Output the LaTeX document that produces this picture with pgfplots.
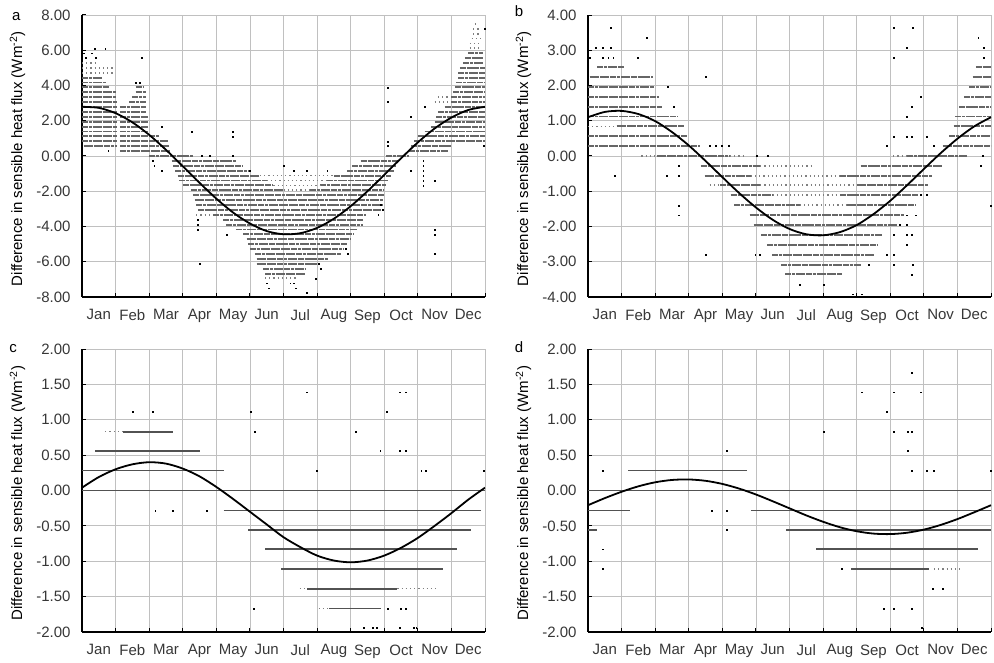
\documentclass[border=0pt]{standalone}
\usepackage{fontspec}
\setmainfont{Liberation Sans}
\usepackage{pgfplots}
\pgfplotsset{compat=1.18}
\definecolor{gridc}{RGB}{192,192,192}
\definecolor{tickc}{RGB}{55,55,55}
\pgfplotsset{
 panel/.style={
   scale only axis, width=403pt,
   xmin=0, xmax=12,
   clip mode=individual,
   axis lines*=left,
   axis line style={-, black, line width=1.3pt},
   xtick={0.5,1.5,2.5,3.5,4.5,5.5,6.5,7.5,8.5,9.5,10.5,11.5},
   xticklabels={Jan,Feb,Mar,Apr,May,Jun,Jul,Aug,Sep,Oct,Nov,Dec},
   minor xtick={0,1,2,3,4,5,6,7,8,9,10,11,12},
   xmajorgrids=false, xminorgrids=true, ymajorgrids=true,
   major grid style={gridc, line width=0.8pt},
   minor grid style={gridc, line width=0.8pt},
   major x tick style={draw=none},
   minor x tick style={black, line width=1pt},
   ytick style={black, line width=1pt},
   tick align=inside,
   major tick length=4pt, minor tick length=4pt,
   tick label style={font=\fontsize{15}{18}\selectfont, text=tickc},
   xticklabel style={yshift=-9pt},
   yticklabel style={xshift=-8pt},
   label style={font=\fontsize{15}{18}\selectfont},
   ylabel={Difference in sensible heat flux (Wm\textsuperscript{-2})},
   ylabel style={at={(axis description cs:-0.160,0.49)}, anchor=center},
 },
 rowd/.style={no marks, line width=1.9pt, black!60, unbounded coords=jump,
   dash pattern=on 6pt off 0.8pt on 3pt off 0.8pt on 9pt off 1pt},
 rows/.style={no marks, line width=1.7pt, black!50, unbounded coords=jump,
   dash pattern=on 1.2pt off 3pt},
 rowc/.style={no marks, line width=1.5pt, black!68, unbounded coords=jump},
 dots/.style={only marks, mark=square*, mark size=0.45pt, mark options={draw=none, fill=black!45}},
 fit/.style={no marks, smooth, line width=1.8pt, black},
}
\begin{document}
\begin{tikzpicture}
\useasboundingbox (0,0) rectangle (994pt,662pt);
% ---------------- panel a
\begin{axis}[panel, at={(82pt,365pt)}, anchor=south west, height=282pt,
  ymin=-8, ymax=8, ytick={-8,-6,-4,-2,0,2,4,6,8},
  yticklabels={-8.00,-6.00,-4.00,-2.00,0.00,2.00,4.00,6.00,8.00}]
\addplot[rowd] coordinates {
(1.13,0.28) (2.62,0.28) (nan,nan)
(0.05,0.56) (1.03,0.56) (nan,nan) (1.13,0.56) (1.97,0.56) (nan,nan) (2.0,0.56) (2.6,0.56) (nan,nan)
(0,0.83) (1.03,0.83) (nan,nan) (1.13,0.83) (1.97,0.83) (nan,nan) (2.0,0.83) (2.55,0.83) (nan,nan)
(0,1.11) (1.03,1.11) (nan,nan) (1.13,1.11) (1.97,1.11) (nan,nan) (2.0,1.11) (2.3,1.11) (nan,nan)
(0,1.39) (1.03,1.39) (nan,nan) (1.13,1.39) (1.97,1.39) (nan,nan)
(0,1.67) (1.03,1.67) (nan,nan) (1.13,1.67) (1.97,1.67) (nan,nan)
(0,1.94) (1.03,1.94) (nan,nan) (1.13,1.94) (1.95,1.94) (nan,nan)
(0,2.22) (1.03,2.22) (nan,nan) (1.13,2.22) (1.95,2.22) (nan,nan)
(0,2.50) (1.03,2.50) (nan,nan) (1.13,2.50) (1.9,2.50) (nan,nan)
(0,2.78) (1.03,2.78) (nan,nan) (1.13,2.78) (1.9,2.78) (nan,nan)
(0,3.06) (1.03,3.06) (nan,nan) (1.4,3.06) (1.9,3.06) (nan,nan)
(0,3.33) (1.0,3.33) (nan,nan) (1.5,3.33) (1.9,3.33) (nan,nan)
(0,3.61) (1.0,3.61) (nan,nan) (1.6,3.61) (1.9,3.61) (nan,nan)
(0,3.89) (0.8,3.89) (nan,nan) (1.6,3.89) (1.85,3.89) (nan,nan)
(0,4.17) (0.7,4.17) (nan,nan)
(0,4.44) (0.6,4.44) (nan,nan)
(9.05,0) (9.75,0) (nan,nan)
(9.75,0.28) (10.9,0.28) (nan,nan)
(9.8,0.56) (11.0,0.56) (nan,nan)
(9.9,0.83) (12,0.83) (nan,nan)
(10.0,1.11) (12,1.11) (nan,nan)
(10.2,1.39) (12,1.39) (nan,nan)
(10.4,1.67) (12,1.67) (nan,nan)
(10.5,1.94) (12,1.94) (nan,nan)
(10.55,2.22) (12,2.22) (nan,nan)
(10.6,2.50) (12,2.50) (nan,nan)
(10.8,2.78) (12,2.78) (nan,nan)
(11.0,3.06) (12,3.06) (nan,nan)
(11.0,3.33) (12,3.33) (nan,nan)
(11.05,3.61) (12,3.61) (nan,nan)
(11.1,3.89) (12,3.89) (nan,nan)
(11.15,4.17) (12,4.17) (nan,nan)
(11.2,4.44) (12,4.44) (nan,nan)
(11.2,4.72) (12,4.72) (nan,nan)
(11.25,5.00) (12,5.00) (nan,nan)
(11.35,5.28) (11.95,5.28) (nan,nan)
(11.4,5.56) (11.95,5.56) (nan,nan)
(11.5,5.83) (11.95,5.83) (nan,nan)
(2.0,0) (3.3,0) (nan,nan)
(2.67,-0.28) (4.6,-0.28) (nan,nan) (8.3,-0.28) (9.4,-0.28) (nan,nan)
(2.72,-0.56) (4.8,-0.56) (nan,nan) (8.05,-0.56) (9.35,-0.56) (nan,nan)
(2.78,-0.83) (5.0,-0.83) (nan,nan) (7.9,-0.83) (9.3,-0.83) (nan,nan)
(2.85,-1.11) (5.3,-1.11) (nan,nan) (7.5,-1.11) (9.2,-1.11) (nan,nan)
(2.9,-1.39) (5.5,-1.39) (nan,nan) (7.3,-1.39) (9.1,-1.39) (nan,nan)
(3.0,-1.67) (5.7,-1.67) (nan,nan) (7.1,-1.67) (9.05,-1.67) (nan,nan)
(3.25,-1.94) (6.0,-1.94) (nan,nan) (6.8,-1.94) (9.0,-1.94) (nan,nan)
(3.3,-2.22) (9.0,-2.22) (nan,nan)
(3.35,-2.50) (8.95,-2.50) (nan,nan)
(3.4,-2.78) (8.95,-2.78) (nan,nan)
(3.45,-3.06) (8.9,-3.06) (nan,nan)
(3.9,-3.33) (8.45,-3.33) (nan,nan)
(4.2,-3.61) (8.38,-3.61) (nan,nan)
(4.3,-3.89) (8.38,-3.89) (nan,nan)
(4.6,-4.17) (8.2,-4.17) (nan,nan)
(4.8,-4.44) (8.1,-4.44) (nan,nan)
(4.9,-4.72) (8.0,-4.72) (nan,nan)
(4.95,-5.00) (7.9,-5.00) (nan,nan)
(5.0,-5.28) (7.8,-5.28) (nan,nan)
(5.15,-5.56) (7.7,-5.56) (nan,nan)
(5.2,-5.83) (7.35,-5.83) (nan,nan)
(5.2,-6.11) (7.0,-6.11) (nan,nan)
(5.4,-6.39) (6.67,-6.39) (nan,nan)
(5.45,-6.67) (6.65,-6.67)
};
\addplot[rows] coordinates {
(0,4.72) (0.95,4.72) (nan,nan)
(0,5.00) (1.0,5.00) (nan,nan)
(0,5.28) (0.5,5.28) (nan,nan)
(11.55,6.11) (11.9,6.11) (nan,nan)
(11.55,6.39) (11.9,6.39) (nan,nan)
(11.6,6.67) (11.9,6.67) (nan,nan)
(11.65,6.94) (11.85,6.94) (nan,nan)
(11.65,7.22) (11.85,7.22) (nan,nan)
(11.7,7.50) (11.8,7.50) (nan,nan)
(5.3,-1.11) (7.5,-1.11) (nan,nan)
(5.5,-1.39) (7.3,-1.39) (nan,nan)
(5.7,-1.67) (7.1,-1.67) (nan,nan)
(6.0,-1.94) (6.8,-1.94) (nan,nan)
(3.4,-3.33) (3.9,-3.33) (nan,nan)
(5.45,-6.94) (6.4,-6.94) (nan,nan)
(10.5,3.06) (10.95,3.06) (nan,nan)
(10.6,3.33) (10.95,3.33)
};
\addplot[dots] coordinates {
(0.05,5.83) (0.3,5.83) (0.38,6.11) (0.69,6.11) (0.1,5.56) (0.4,5.56) (0.78,0.28)
(1.6,4.17) (1.73,4.17) (1.78,5.56) (2.37,1.67) (2.1,-0.28) (2.15,-0.56) (2.37,-0.83)
(3.27,1.39) (3.45,-3.61) (3.45,-3.89) (3.45,-4.17) (3.5,-6.11) (3.56,0) (3.81,0)
(4.5,1.39) (4.5,1.11) (4.5,0) (4.3,-4.44) (5.0,-0.83) (6.0,-0.56) (6.3,-0.83)
(6.7,-0.83) (7.3,-0.83) (7.05,-6.11) (7.1,-6.39) (6.95,-6.94) (5.5,-7.22) (6.2,-7.22)
(6.3,-7.22) (5.55,-7.5) (6.35,-7.5) (6.7,-7.78) (7.85,-5.28) (7.9,-5.56) (9.1,3.89)
(9.1,3.06) (9.1,0.83) (9.1,0.56) (9.8,2.22) (9.79,-0.83) (10.16,-0.28) (10.16,-0.56)
(10.16,-0.83) (10.16,-1.11) (10.16,-1.39) (10.16,-1.67) (10.5,-1.39) (10.5,-4.17)
(10.5,-4.44) (10.5,-5.56) (10.2,2.78) (11.95,0.56) (11.98,7.22) (8.82,-3.33)
(8.9,-2.78) (8.95,-3.06)
};
\addplot[fit] coordinates {
(0,2.79) (0.5,2.73) (1,2.43) (1.5,1.91) (2,1.20) (2.5,0.35) (3,-0.58) (3.5,-1.52)
(4,-2.42) (4.5,-3.21) (5,-3.83) (5.5,-4.26) (6,-4.44) (6.5,-4.38) (7,-4.08)
(7.5,-3.56) (8,-2.85) (8.5,-2.00) (9,-1.07) (9.5,-0.13) (10,0.77) (10.5,1.56)
(11,2.18) (11.5,2.61) (12,2.79)
};
\node[anchor=base, font=\fontsize{15}{18}\selectfont] at (axis description cs:-0.163,0.982) {a};
\end{axis}
% ---------------- panel b
\begin{axis}[panel, at={(588pt,365pt)}, anchor=south west, height=282pt,
  ymin=-4, ymax=4, ytick={-4,-3,-2,-1,0,1,2,3,4},
  yticklabels={-4.00,-3.00,-2.00,-1.00,0.00,1.00,2.00,3.00,4.00}]
\addplot[rowd] coordinates {
(0.28,2.52) (1.07,2.52) (nan,nan) (11.55,2.52) (12,2.52) (nan,nan)
(0.05,2.24) (1.94,2.24) (nan,nan) (11.45,2.24) (12,2.24) (nan,nan)
(0,1.96) (1.97,1.96) (nan,nan) (11.35,1.96) (12,1.96) (nan,nan)
(0,1.68) (2.11,1.68) (nan,nan) (11.2,1.68) (12,1.68) (nan,nan)
(0,1.40) (2.19,1.40) (nan,nan) (11.04,1.40) (12,1.40) (nan,nan)
(0,1.12) (2.69,1.12) (nan,nan) (10.94,1.12) (12,1.12) (nan,nan)
(0.85,0.84) (2.86,0.84) (nan,nan) (10.89,0.84) (12,0.84) (nan,nan)
(0,0.56) (2.96,0.56) (nan,nan) (10.76,0.56) (12,0.56) (nan,nan)
(0,0.28) (3.34,0.28) (nan,nan) (10.56,0.28) (12,0.28) (nan,nan)
(2.04,0) (4.23,0) (nan,nan) (9.5,0) (11.3,0) (nan,nan)
(3.36,-0.28) (5.13,-0.28) (nan,nan) (8.12,-0.28) (10.56,-0.28) (nan,nan)
(3.47,-0.56) (4.85,-0.56) (nan,nan) (7.5,-0.56) (10.26,-0.56) (nan,nan)
(3.93,-0.83) (5.13,-0.83) (nan,nan) (8.0,-0.83) (10.13,-0.83) (nan,nan)
(4.25,-1.11) (5.5,-1.11) (nan,nan) (7.5,-1.11) (9.83,-1.11) (nan,nan)
(4.35,-1.40) (6.3,-1.40) (nan,nan) (7.7,-1.40) (9.76,-1.40) (nan,nan)
(4.81,-1.68) (9.41,-1.68) (nan,nan)
(4.93,-1.96) (9.21,-1.96) (nan,nan)
(5.16,-2.24) (8.76,-2.24) (nan,nan)
(5.33,-2.52) (8.62,-2.52) (nan,nan)
(5.48,-2.80) (8.52,-2.80) (nan,nan)
(5.75,-3.08) (8.12,-3.08) (nan,nan)
(5.88,-3.36) (7.57,-3.36)
};
\addplot[rows] coordinates {
(0,0.84) (0.85,0.84) (nan,nan)
(1.59,0) (2.04,0) (nan,nan) (4.23,0) (4.73,0) (nan,nan) (9.09,0) (9.5,0) (nan,nan)
(5.13,-0.28) (6.7,-0.28) (nan,nan)
(4.85,-0.56) (7.5,-0.56) (nan,nan)
(3.62,-0.83) (3.93,-0.83) (nan,nan) (5.13,-0.83) (8.0,-0.83) (nan,nan)
(5.5,-1.11) (7.5,-1.11) (nan,nan)
(6.3,-1.40) (7.7,-1.40)
};
\addplot[dots] coordinates {
(0.67,3.64) (9.09,3.64) (9.66,3.64) (1.76,3.36) (11.62,3.36) (0.22,3.08) (0.45,3.08)
(0.67,3.08) (9.48,3.08) (11.78,3.08) (0.05,2.80) (0.45,2.80) (0.6,2.80) (0.75,2.80)
(1.48,2.80) (9.09,2.80) (11.78,2.80) (3.5,2.24) (2.36,1.96) (9.91,1.68) (2.54,1.40)
(9.63,1.40) (9.48,1.12) (9.09,0.56) (9.48,0.56) (9.63,0.56) (10.09,0.56) (3.62,0.28)
(3.81,0.28) (3.98,0.28) (4.18,0.28) (8.89,0.28) (10.29,0.28) (5.03,0) (5.35,0)
(11.75,0) (2.69,-0.28) (11.7,-0.28) (2.34,-0.56) (2.69,-0.56) (0.8,-0.56) (9.91,-1.11)
(10.09,-1.11) (2.69,-1.40) (12,-1.40) (2.69,-1.68) (9.48,-1.68) (9.76,-1.68) (9.27,-1.96)
(9.48,-1.96) (9.09,-2.24) (9.48,-2.24) (9.63,-2.24) (9.48,-2.52) (3.5,-2.80) (4.98,-2.80)
(5.11,-2.80) (8.89,-2.80) (9.09,-2.80) (8.37,-3.08) (9.09,-3.08) (9.66,-3.08) (9.63,-3.36)
(6.3,-3.64) (7.02,-3.64) (7.87,-3.92) (8.14,-3.92)
};
\addplot[fit] coordinates {
(0,1.10) (0.5,1.25) (1,1.28) (1.5,1.19) (2,0.99) (2.5,0.68) (3,0.30) (3.5,-0.14)
(4,-0.60) (4.5,-1.05) (5,-1.46) (5.5,-1.81) (6,-2.07) (6.5,-2.22) (7,-2.25)
(7.5,-2.16) (8,-1.96) (8.5,-1.65) (9,-1.27) (9.5,-0.83) (10,-0.37) (10.5,0.08)
(11,0.49) (11.5,0.84) (12,1.10)
};
\node[anchor=base, font=\fontsize{15}{18}\selectfont] at (axis description cs:-0.171,0.996) {b};
\end{axis}
% ---------------- panel c
\begin{axis}[panel, at={(82pt,30pt)}, anchor=south west, height=283pt,
  ymin=-2, ymax=2, ytick={-2,-1.5,-1,-0.5,0,0.5,1,1.5,2},
  yticklabels={-2.00,-1.50,-1.00,-0.50,0.00,0.50,1.00,1.50,2.00}]
\addplot[rowc] coordinates {
(1.23,0.83) (2.71,0.83) (nan,nan)
(0.39,0.56) (3.52,0.56) (nan,nan)
(0,0.28) (4.22,0.28) (nan,nan)
(0,0) (12,0) (nan,nan)
(4.22,-0.28) (11.88,-0.28) (nan,nan)
(4.95,-0.56) (11.58,-0.56) (nan,nan)
(5.46,-0.83) (11.16,-0.83) (nan,nan)
(5.94,-1.11) (10.74,-1.11) (nan,nan)
(6.71,-1.39) (9.39,-1.39) (nan,nan)
(7.35,-1.67) (8.9,-1.67)
};
\addplot[rows, line width=1.3pt] coordinates {
(0.69,0.83) (1.23,0.83) (nan,nan)
(6.49,-1.39) (6.71,-1.39) (nan,nan) (9.39,-1.39) (10.59,-1.39) (nan,nan)
(7.05,-1.67) (7.35,-1.67)
};
\addplot[dots] coordinates {
(1.51,1.11) (2.11,1.11) (5.01,1.11) (9.07,1.11) (6.69,1.39) (9.47,1.39) (9.64,1.39)
(5.13,0.83) (8.16,0.83) (8.88,0.56) (9.47,0.56) (9.64,0.56) (7.0,0.28) (10.1,0.28)
(10.24,0.28) (11.95,0.28) (2.18,-0.28) (2.71,-0.28) (3.72,-0.28) (5.11,-1.67)
(9.1,-1.67) (9.5,-1.67) (9.64,-1.67) (8.4,-1.94) (8.65,-1.94) (8.78,-1.94)
(9.47,-1.94) (9.89,-1.94) (9.95,-1.94)
};
\addplot[fit] coordinates {
(0,0.04) (0.5,0.19) (1,0.30) (1.5,0.37) (2,0.40) (2.5,0.38) (3,0.31) (3.5,0.20)
(4,0.05) (4.5,-0.12) (5,-0.30) (5.5,-0.48) (6,-0.66) (6.5,-0.80) (7,-0.92)
(7.5,-0.99) (8,-1.015) (8.5,-0.99) (9,-0.92) (9.5,-0.81) (10,-0.67) (10.5,-0.50)
(11,-0.32) (11.5,-0.13) (12,0.04)
};
\node[anchor=base, font=\fontsize{15}{18}\selectfont] at (axis description cs:-0.171,0.989) {c};
\end{axis}
% ---------------- panel d
\begin{axis}[panel, at={(588pt,30pt)}, anchor=south west, height=283pt,
  ymin=-2, ymax=2, ytick={-2,-1.5,-1,-0.5,0,0.5,1,1.5,2},
  yticklabels={-2.00,-1.50,-1.00,-0.50,0.00,0.50,1.00,1.50,2.00}]
\addplot[rowc] coordinates {
(1.2,0.28) (4.73,0.28) (nan,nan)
(0,0) (12,0) (nan,nan)
(0,-0.28) (1.25,-0.28) (nan,nan) (4.85,-0.28) (12,-0.28) (nan,nan)
(0,-0.56) (0.27,-0.56) (nan,nan) (5.91,-0.56) (12,-0.56) (nan,nan)
(6.8,-0.83) (11.6,-0.83) (nan,nan)
(7.84,-1.11) (10.16,-1.11)
};
\addplot[rows, line width=1.3pt] coordinates {
(10.3,-1.11) (11.06,-1.11)
};
\addplot[dots] coordinates {
(0.45,0.28) (9.64,0.28) (10.09,0.28) (10.29,0.28) (12,0.28) (3.69,-0.28) (4.13,-0.28)
(4.13,-0.56) (0.45,-0.83) (7.55,-1.11) (0.45,-1.11) (10.26,-1.39) (10.56,-1.39)
(8.8,-1.67) (9.09,-1.67) (9.64,-1.67) (9.93,-1.94) (4.13,0.56) (9.51,0.56) (7.02,0.83)
(9.09,0.83) (9.51,0.83) (9.64,0.83) (8.89,1.11) (8.15,1.39) (9.09,1.39) (9.91,1.39)
(9.64,1.67)
};
\addplot[fit] coordinates {
(0,-0.208) (0.5,-0.108) (1,-0.018) (1.5,0.059) (2,0.116) (2.5,0.149) (3,0.156)
(3.5,0.137) (4,0.093) (4.5,0.027) (5,-0.056) (5.5,-0.152) (6,-0.252) (6.5,-0.352)
(7,-0.442) (7.5,-0.519) (8,-0.576) (8.5,-0.609) (9,-0.616) (9.5,-0.597) (10,-0.553)
(10.5,-0.487) (11,-0.404) (11.5,-0.308) (12,-0.208)
};
\node[anchor=base, font=\fontsize{15}{18}\selectfont] at (axis description cs:-0.171,0.989) {d};
\end{axis}
\end{tikzpicture}
\end{document}
